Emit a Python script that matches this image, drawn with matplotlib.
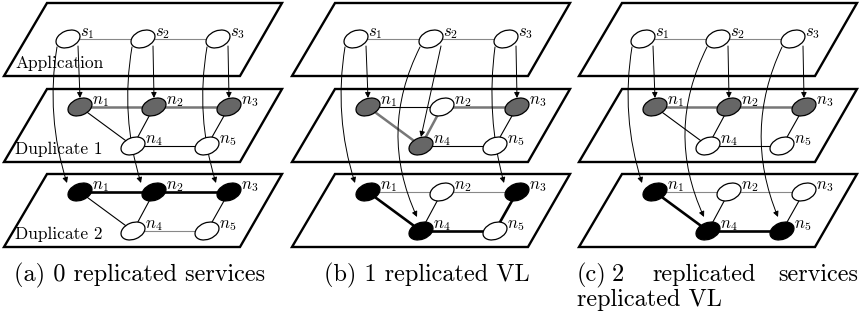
"""Three-panel diagram: application services mapped onto two duplicate substrate layers."""

import matplotlib
matplotlib.use("Agg")
import matplotlib.pyplot as plt
from matplotlib.patches import Ellipse, Polygon, FancyArrowPatch

plt.rcParams['mathtext.fontset'] = 'cm'

# --- diagram data ---------------------------------------------------------
panel_x = [0, 288, 575]
plane_top = [3, 89, 174]                 # Application, Duplicate 1, Duplicate 2
plane_names = ["Application", "Duplicate 1", "Duplicate 2"]

service_names = ["s_1", "s_2", "s_3"]
service_pos = [(68, 36), (143, 36), (218, 36)]        # relative to plane
node_names = ["n_1", "n_2", "n_3", "n_4", "n_5"]
node_pos = [(80, 18), (154, 18), (229, 18), (133, 57), (207, 57)]
node_edges = [(0, 1), (1, 2), (0, 3), (1, 3), (2, 4), (3, 4)]

# node fill per panel / layer: g = grey, k = black, w = white
node_fill = [
    ["gggww", "kkkww"],
    ["gwggw", "kwkkw"],
    ["gggww", "kwwkk"],
]
# edge style per panel / layer: G grey thick, g grey thin, K black thick, k black thin
edge_style = [
    ["GGkkkk", "KKkkkg"],
    ["kGGGkk", "ggKkKK"],
    ["GGkkkk", "ggKkkK"],
]
# (service, layer, node, curvature)
mappings = [
    [(0, 1, 0, 0.0), (1, 1, 1, 0.0), (2, 1, 2, 0.0),
     (0, 2, 0, 0.12), (1, 2, 1, 0.12), (2, 2, 2, 0.12)],
    [(0, 1, 0, 0.0), (1, 1, 3, 0.0), (2, 1, 2, 0.0),
     (0, 2, 0, 0.12), (1, 2, 3, 0.24), (2, 2, 2, 0.10)],
    [(0, 1, 0, 0.0), (1, 1, 1, 0.0), (2, 1, 2, 0.0),
     (0, 2, 0, 0.12), (1, 2, 3, 0.24), (2, 2, 4, 0.22)],
]
captions = ["(a) 0 replicated services", "(b) 1 replicated VL"]

FILL = {"g": "#666666", "k": "black", "w": "white"}
EDGE = {"G": ("#777777", 1.8), "g": ("#888888", 0.8),
        "K": ("black", 1.9), "k": ("black", 0.8)}
CAP = 17.5

fig = plt.figure(figsize=(8.65, 3.2), dpi=100)
ax = fig.add_axes([0, 0, 1, 1])
ax.set_xlim(0, 865)
ax.set_ylim(320, 0)
ax.axis('off')


def node_xy(p, layer, idx):
    px, top = panel_x[p], plane_top[layer]
    rel = service_pos[idx] if layer == 0 else node_pos[idx]
    return px + rel[0], top + rel[1]


def draw_node(x, y, fill, label):
    ax.add_patch(Ellipse((x, y), 25, 16.5, angle=-22, facecolor=fill,
                         edgecolor="black", lw=0.9, zorder=4))
    ax.text(x + 12, y - 3, f"${label}$", fontsize=12, ha="left",
            va="baseline", zorder=5)


for p in range(3):
    px = panel_x[p]
    for layer, top in enumerate(plane_top):
        corners = [(px + 47, top), (px + 282, top), (px + 240, top + 73), (px + 4, top + 73)]
        ax.add_patch(Polygon(corners, closed=True, fill=False, edgecolor="black",
                             lw=1.7, zorder=1))
        if p == 0:
            ax.text(px + 15, top + 65, plane_names[layer], fontsize=12.5,
                    family="cmr10", ha="left", va="baseline", zorder=5)

    # application layer
    for i in range(2):
        (x1, y1), (x2, y2) = node_xy(p, 0, i), node_xy(p, 0, i + 1)
        ax.plot([x1, x2], [y1, y2], color="#888888", lw=0.8, zorder=2)
    for i, name in enumerate(service_names):
        draw_node(*node_xy(p, 0, i), "white", name)

    # duplicate layers
    for layer in (1, 2):
        for (a, b), st in zip(node_edges, edge_style[p][layer - 1]):
            (x1, y1), (x2, y2) = node_xy(p, layer, a), node_xy(p, layer, b)
            color, lw = EDGE[st]
            ax.plot([x1, x2], [y1, y2], color=color, lw=lw, zorder=2,
                    solid_capstyle="butt")
        for i, name in enumerate(node_names):
            draw_node(*node_xy(p, layer, i), FILL[node_fill[p][layer - 1][i]], name)

    # service -> node mappings
    for s, layer, n, rad in mappings[p]:
        sx, sy = node_xy(p, 0, s)
        tx, ty = node_xy(p, layer, n)
        if layer == 1:
            start, end = (sx + 10, sy + 7), (tx, ty - 9)
        else:
            start = (sx - 11, sy + 8)
            end = (tx - 13, ty - 9) if n < 3 else (tx - 4, ty - 14)
        ax.add_patch(FancyArrowPatch(start, end, connectionstyle=f"arc3,rad={rad}",
                                     arrowstyle="-|>", mutation_scale=8, lw=0.7,
                                     color="black", shrinkA=0, shrinkB=0, zorder=3))

ax.text(140, 281, captions[0], fontsize=CAP, family="cmr10", ha="center", va="baseline")
ax.text(427, 281, captions[1], fontsize=CAP, family="cmr10", ha="center", va="baseline")
# caption (c) is justified over two lines
ax.text(577, 281, "(c)", fontsize=CAP, family="cmr10", ha="left", va="baseline")
ax.text(612, 281, "2", fontsize=CAP, family="cmr10", ha="left", va="baseline")
ax.text(652, 281, "replicated", fontsize=CAP, family="cmr10", ha="left", va="baseline")
ax.text(858, 281, "services", fontsize=CAP, family="cmr10", ha="right", va="baseline")
ax.text(577, 306, "replicated VL", fontsize=CAP, family="cmr10", ha="left", va="baseline")

fig.savefig("out.png", dpi=100)
plt.close(fig)
